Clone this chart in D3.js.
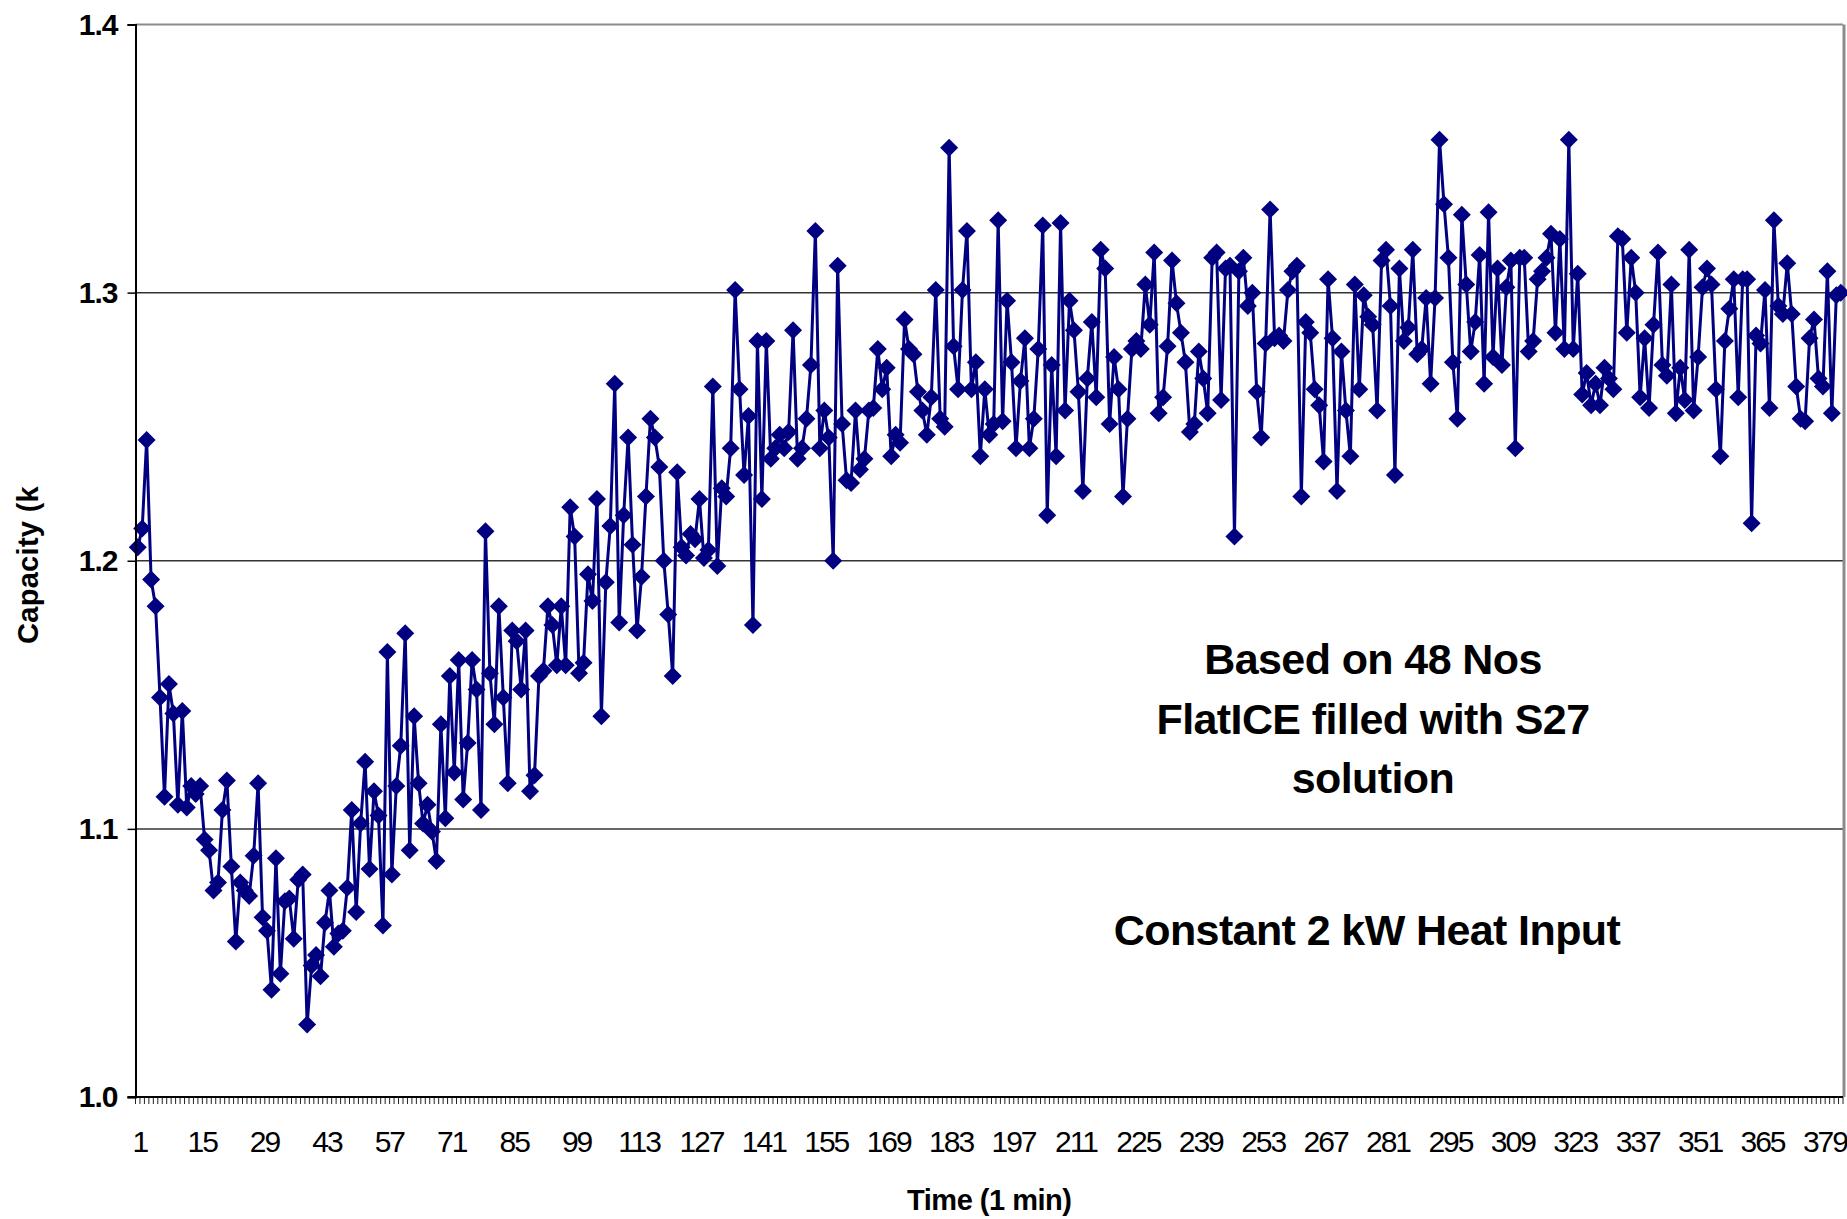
<!DOCTYPE html>
<html><head><meta charset="utf-8">
<script src="https://cdn.jsdelivr.net/npm/d3@7"></script>
<style>
body{margin:0;background:#fff}
svg{display:block}
text{font-family:"Liberation Sans",Arial,sans-serif;fill:#000}
</style>
</head><body>
<svg id="chart" width="1847" height="1219"></svg>
<script>
// ---- data ----
const capacity = [
1.205,1.212,1.245,1.193,1.183,1.149,1.112,1.154,1.143,1.109,
1.144,1.108,1.116,1.113,1.116,1.096,1.092,1.077,1.080,1.107,
1.118,1.086,1.058,1.080,1.077,1.075,1.090,1.117,1.067,1.062,
1.040,1.089,1.046,1.073,1.074,1.059,1.081,1.083,1.027,1.049,
1.053,1.045,1.065,1.077,1.056,1.061,1.062,1.078,1.107,1.069,
1.102,1.125,1.085,1.114,1.105,1.064,1.166,1.083,1.116,1.131,
1.173,1.092,1.142,1.117,1.102,1.109,1.099,1.088,1.139,1.104,
1.157,1.121,1.163,1.111,1.132,1.163,1.152,1.107,1.211,1.158,
1.139,1.183,1.149,1.117,1.174,1.170,1.152,1.174,1.114,
1.120,1.157,1.159,1.183,1.176,1.161,1.183,1.161,1.220,1.209,
1.158,1.162,1.195,1.185,1.223,1.142,1.192,1.213,1.266,1.177,
1.217,1.246,1.206,1.174,1.194,1.224,1.253,1.246,1.235,1.200,
1.180,1.157,1.233,1.205,1.202,1.210,1.208,1.223,1.201,1.204,
1.265,1.198,1.227,1.224,1.242,1.301,1.264,1.232,1.254,1.176,
1.282,1.223,1.282,1.238,1.242,1.247,1.242,1.248,1.286,1.238,
1.242,1.253,1.273,1.323,1.242,1.256,1.246,1.200,1.310,
1.251,1.230,1.229,1.256,1.234,1.238,1.256,1.257,1.279,1.264,
1.272,1.239,1.247,1.244,1.290,1.279,1.277,1.263,1.256,1.247,
1.261,1.301,1.253,1.250,1.354,1.280,1.264,1.301,1.323,1.264,
1.274,1.239,1.264,1.247,1.251,1.327,1.252,1.297,1.274,1.242,
1.267,1.283,1.242,1.253,1.279,1.325,1.217,1.273,1.239,1.326,
1.256,1.297,1.286,1.263,1.226,1.268,1.289,1.261,1.316,1.309,
1.251,1.276,1.264,1.224,1.253,1.279,1.282,1.279,1.303,
1.288,1.315,1.255,1.261,1.280,1.312,1.296,1.285,1.274,1.248,
1.251,1.278,1.268,1.255,1.313,1.315,1.260,1.309,1.310,1.209,
1.308,1.313,1.295,1.300,1.263,1.246,1.281,1.331,1.283,1.284,
1.282,1.301,1.308,1.310,1.224,1.289,1.285,1.264,1.258,1.237,
1.305,1.283,1.226,1.278,1.256,1.239,1.303,1.264,1.299,1.291,
1.288,1.256,1.312,1.316,1.295,1.232,1.309,1.282,1.287,1.316,
1.277,1.279,1.298,1.266,1.298,1.357,1.333,1.313,1.274,1.253,
1.329,1.303,1.278,1.289,1.314,1.266,1.330,1.276,1.309,1.273,
1.302,1.312,1.242,1.313,1.313,1.278,1.282,1.305,1.308,1.313,
1.322,1.285,1.320,1.279,1.357,1.279,1.307,1.262,1.270,1.258,
1.266,1.258,1.272,1.268,1.264,1.321,1.320,1.285,1.313,1.300,
1.261,1.283,1.257,1.288,1.315,1.273,1.269,1.303,1.255,1.272,
1.260,1.316,1.256,1.276,1.302,1.309,1.303,1.264,1.239,1.282,
1.294,1.305,1.261,1.305,1.305,1.214,1.284,1.281,1.301,1.257,
1.327,1.295,1.292,1.311,1.292,1.265,1.253,1.252,1.283,1.290,
1.268,1.265,1.308,1.255,1.299,1.300
];
const categories = capacity.map((d, i) => i + 1);
const xTickLabels = [1,15,29,43,57,71,85,99,113,127,141,155,169,183,197,211,225,239,253,267,281,295,309,323,337,351,365,379];
const yTickValues = [1.0,1.1,1.2,1.3,1.4];
const yTickLabels = ["1.0","1.1","1.2","1.3","1.4"];
const xTitle = "Time (1 min)";
const yTitle = "Capacity (k";
const noteLines = ["Based on 48 Nos","FlatICE filled with S27","solution"];
const noteLine2 = "Constant 2 kW Heat Input";

// ---- layout ----
const L = 135.5, R = 1843, T = 24.5, B = 1097;
const svg = d3.select("#chart");

const x = d3.scaleBand().domain(categories).range([L, R]).padding(0);
const cx = c => x(c) + x.bandwidth() / 2;
const y = d3.scaleLinear().domain([1.0, 1.4]).range([B, T]);

// gridlines
svg.append("g").selectAll("line").data(yTickValues.filter(v => v > 1.0 && v < 1.4)).join("line")
  .attr("x1", L).attr("x2", R).attr("y1", d => y(d)).attr("y2", d => y(d))
  .attr("stroke", "#333").attr("stroke-width", 1.5);

// plot border (top & right grey)
svg.append("line").attr("x1", L).attr("x2", R).attr("y1", y(1.4)).attr("y2", y(1.4))
  .attr("stroke", "#8c8c8c").attr("stroke-width", 2.2);
svg.append("line").attr("x1", R + 1).attr("x2", R + 1).attr("y1", T).attr("y2", B)
  .attr("stroke", "#8c8c8c").attr("stroke-width", 3);

// data line
const line = d3.line().x((d, i) => cx(categories[i])).y(d => y(d));
svg.append("path").datum(capacity).attr("d", line)
  .attr("fill", "none").attr("stroke", "#000080").attr("stroke-width", 3)
  .attr("stroke-linejoin", "round");

// diamond markers
const r = 9;
svg.append("g").selectAll("path").data(capacity).join("path")
  .attr("d", `M0,${-r}L${r},0L0,${r}L${-r},0Z`)
  .attr("transform", (d, i) => `translate(${cx(categories[i])},${y(d)})`)
  .attr("fill", "#000080");

// y axis
const yAxis = d3.axisLeft(y).tickValues(yTickValues)
  .tickFormat((d, i) => yTickLabels[i]).tickSize(8).tickPadding(10);
const gy = svg.append("g").attr("transform", `translate(${L},0)`).call(yAxis);
gy.select(".domain").attr("stroke", "#000").attr("stroke-width", 2);
gy.selectAll(".tick line").attr("stroke", "#000").attr("stroke-width", 1.5);
gy.selectAll(".tick text").attr("font-size", 30).attr("font-weight", "bold")
  .attr("letter-spacing", -1).attr("font-family", "'Liberation Sans',Arial,sans-serif");

// x axis: ticks at every category boundary, labels every 14
const gx = svg.append("g").attr("transform", `translate(0,${B})`);
gx.selectAll("line.tk").data(categories.concat([categories.length + 1])).join("line")
  .attr("class", "tk")
  .attr("x1", d => L + (d - 1) * x.bandwidth()).attr("x2", d => L + (d - 1) * x.bandwidth())
  .attr("y1", 0).attr("y2", 7).attr("stroke", "#222").attr("stroke-width", 1);
gx.append("line").attr("x1", L - 8).attr("x2", R).attr("y1", 0).attr("y2", 0)
  .attr("stroke", "#000").attr("stroke-width", 2);
gx.selectAll("text").data(xTickLabels).join("text")
  .attr("x", d => cx(d) + 2).attr("y", 55)
  .attr("text-anchor", "middle").attr("font-size", 30).attr("letter-spacing", -2)
  .text(d => d);

// axis titles
svg.append("text").attr("x", (L + R) / 2).attr("y", 1210)
  .attr("text-anchor", "middle").attr("font-size", 29).attr("font-weight", "bold")
  .attr("letter-spacing", -0.5).text(xTitle);
svg.append("text").attr("transform", "translate(38,644) rotate(-90)")
  .attr("text-anchor", "start").attr("font-size", 29).attr("font-weight", "bold")
  .attr("letter-spacing", 0.3).text(yTitle);

// annotations
svg.append("g").selectAll("text").data(noteLines).join("text")
  .attr("x", 1373).attr("y", (d, i) => 674 + i * 59.5)
  .attr("text-anchor", "middle").attr("font-size", 43).attr("font-weight", "bold")
  .attr("letter-spacing", -0.6).text(d => d);
svg.append("text").attr("x", 1367).attr("y", 945)
  .attr("text-anchor", "middle").attr("font-size", 43).attr("font-weight", "bold")
  .attr("letter-spacing", -0.6).text(noteLine2);
</script>
</body></html>
